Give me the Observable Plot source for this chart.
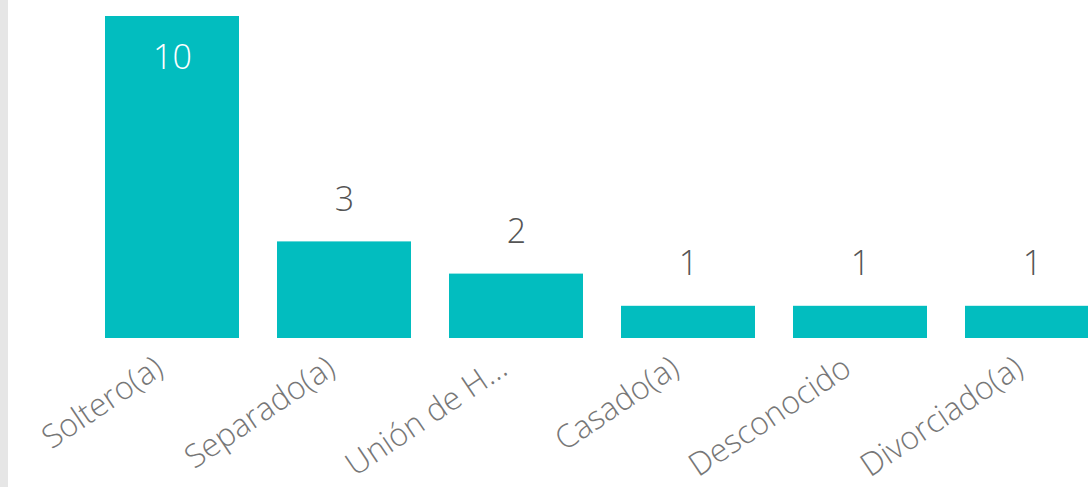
<!DOCTYPE html>
<html>
<head>
<meta charset="utf-8">
<script src="https://cdn.jsdelivr.net/npm/d3@7"></script>
<script src="https://cdn.jsdelivr.net/npm/@observablehq/plot@0.6"></script>
<style>
  html, body { margin: 0; padding: 0; background: #fff; overflow: hidden; width: 1088px; height: 487px; }
  #wrap { position: relative; width: 1088px; height: 487px; overflow: hidden; }
  #edge { position: absolute; left: 0; top: 0; width: 8px; height: 487px; background: #e6e6e6; }
  #chart svg { overflow: hidden; }
</style>
</head>
<body>
<div id="wrap"><div id="chart"></div><div id="edge"></div></div>
<script>
const categories = ["Soltero(a)", "Separado(a)", "Unión de H...", "Casado(a)", "Desconocido", "Divorciado(a)"];
const values = [10, 3, 2, 1, 1, 1];

const data = categories.map((c, i) => ({cat: c, value: values[i]}));
const font = "'Segoe UI Light', 'Segoe UI', 'Open Sans', 'Noto Sans', sans-serif";
const barColor = "#02bdbf";

const chart = Plot.plot({
  width: 1088,
  height: 487,
  marginLeft: 0,
  marginRight: 0,
  marginTop: 0,
  marginBottom: 149,
  style: {fontFamily: font, background: "#fff", overflow: "hidden"},
  x: {domain: categories, range: [85, 1119.4], paddingInner: 0.222, paddingOuter: 0.111, axis: null},
  y: {domain: [0, 10], range: [338, 16], axis: null},
  marks: [
    Plot.barY(data, {x: "cat", y: "value", fill: barColor}),
    Plot.text(data.filter(d => d.value >= 5), {
      x: "cat", y: "value", text: d => String(d.value),
      dy: 42, lineAnchor: "middle", fill: "#ffffff",
      fontSize: 34, fontWeight: 300
    }),
    Plot.text(data.filter(d => d.value < 5), {
      x: "cat", y: "value", text: d => String(d.value),
      dy: -42, lineAnchor: "middle", fill: "#555555",
      fontSize: 34, fontWeight: 300
    }),
    Plot.text(data, {
      x: "cat", frameAnchor: "bottom", text: "cat",
      rotate: -34, textAnchor: "end", lineAnchor: "middle",
      dx: -13, dy: 26, fill: "#777777", fontSize: 32, fontWeight: 300
    })
  ]
});
document.getElementById("chart").appendChild(chart);
</script>
</body>
</html>
